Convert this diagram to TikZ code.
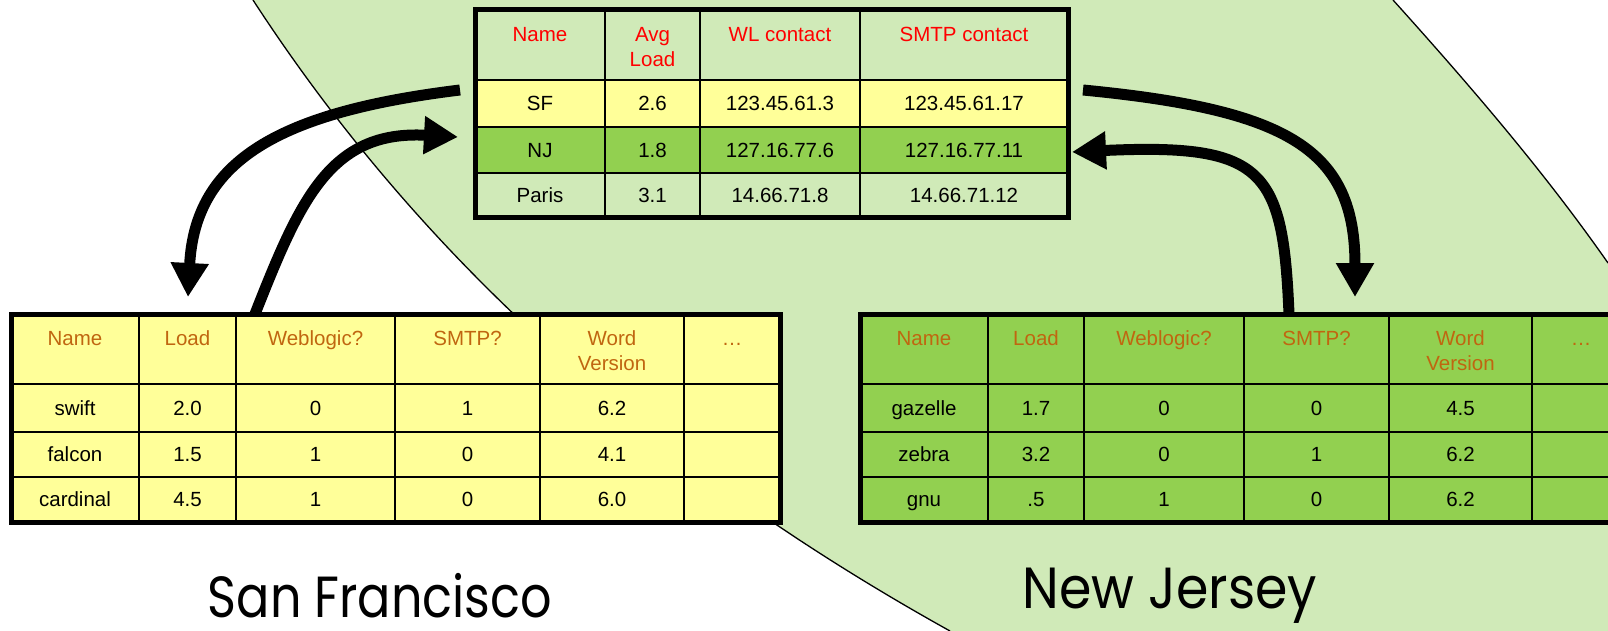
\documentclass[tikz,border=0pt]{standalone}
\usepackage{fontspec}
\setmainfont{Liberation Sans}
\newfontfamily\labelfont[FakeStretch=0.85]{Poppins}
\newfontfamily\labelfontwide[FakeStretch=0.9]{Poppins}
\usetikzlibrary{arrows.meta}
\definecolor{bggreen}{RGB}{208,234,184}
\definecolor{cellyellow}{RGB}{255,255,153}
\definecolor{cellgreen}{RGB}{146,208,80}
\definecolor{hdrred}{RGB}{255,0,0}
\definecolor{hdrorange}{RGB}{192,102,16}
\begin{document}
\begin{tikzpicture}[x=1pt,y=-1pt,
  txt/.style={font=\fontsize{20.5}{25}\selectfont, inner sep=0pt, anchor=base},
  hdrA/.style={txt, text=hdrred},
  hdrB/.style={txt, text=hdrorange},
  gridline/.style={line width=2.5pt},
  frame/.style={line width=5pt},
  bigarrow/.style={line width=11pt, -{Triangle[length=34pt,width=36pt]}},
  region/.style={line width=1.3pt},
  place/.style={font=\labelfont\fontsize{58}{60}\selectfont, inner sep=0pt, anchor=base, text depth=0pt},
  placewide/.style={font=\labelfontwide\fontsize{58}{60}\selectfont, inner sep=0pt, anchor=base, text depth=0pt}]
\useasboundingbox (0,0) rectangle (1608,631);
\clip (0,0) rectangle (1608,631);
\fill[white] (0,0) rectangle (1608,631);
% green region
\fill[bggreen] (253,0) .. controls (383,200) and (590,431) .. (950,631) -- (1608,631) -- (1608,263) .. controls (1545,173) and (1474,90) .. (1393,0) -- cycle;
\draw[region] (253,0) .. controls (383,200) and (590,431) .. (950,631);
\draw[region] (1393,0) .. controls (1474,90) and (1545,173) .. (1608,263);

% ---------- top table ----------
\fill[bggreen] (475,9.5) rectangle (1068,80);
\fill[cellyellow] (475,80) rectangle (1068,127);
\fill[cellgreen] (475,127) rectangle (1068,173);
\fill[bggreen] (475,173) rectangle (1068,217.5);
\foreach \y in {80,127,173} \draw[gridline] (475,\y) -- (1068,\y);
\foreach \x in {605,700,860} \draw[gridline] (\x,9.5) -- (\x,217.5);
\draw[frame] (475,9.5) rectangle (1068,217.5);
\node[hdrA] (th1) at (540,41.3) {Name};
\node[hdrA] (th2a) at (652.5,41.3) {Avg};
\node[hdrA] (th2b) at (652.5,66.3) {Load};
\node[hdrA] (th3) at (780,41.3) {WL contact};
\node[hdrA] (th4) at (964,41.3) {SMTP contact};
\foreach \n/\a/\b/\c/\d/\yy in {1/SF/2.6/123.45.61.3/123.45.61.17/110.8,
  2/NJ/1.8/127.16.77.6/127.16.77.11/157.3,
  3/Paris/3.1/14.66.71.8/14.66.71.12/202.5}{
  \node[txt] (t\n a) at (540,\yy) {\a};
  \node[txt] (t\n b) at (652.5,\yy) {\b};
  \node[txt] (t\n c) at (780,\yy) {\c};
  \node[txt] (t\n d) at (964,\yy) {\d};
}

% ---------- San Francisco table ----------
\fill[cellyellow] (11,314) rectangle (780,522);
\foreach \y in {384,432,477} \draw[gridline] (11,\y) -- (780,\y);
\foreach \x in {139,236,395,540,684} \draw[gridline] (\x,314) -- (\x,522);
\draw[frame] (11,314) rectangle (780,522);
\node[hdrB] (sh1) at (75,345.3) {Name};
\node[hdrB] (sh2) at (187.5,345.3) {Load};
\node[hdrB] (sh3) at (315.5,345.3) {Weblogic?};
\node[hdrB] (sh4) at (467.5,345.3) {SMTP?};
\node[hdrB] (sh5a) at (612,345.3) {Word};
\node[hdrB] (sh5b) at (612,370.3) {Version};
\node[hdrB] (sh6) at (732,345.3) {\dots};
\foreach \n/\a/\b/\c/\d/\e/\yy in {1/swift/2.0/0/1/6.2/415.3,
  2/falcon/1.5/1/0/4.1/461.8,
  3/cardinal/4.5/1/0/6.0/506.8}{
  \node[txt] (s\n a) at (75,\yy) {\a};
  \node[txt] (s\n b) at (187.5,\yy) {\b};
  \node[txt] (s\n c) at (315.5,\yy) {\c};
  \node[txt] (s\n d) at (467.5,\yy) {\d};
  \node[txt] (s\n e) at (612,\yy) {\e};
}

% ---------- New Jersey table ----------
\fill[cellgreen] (860,314) rectangle (1630,522);
\foreach \y in {384,432,477} \draw[gridline] (860,\y) -- (1630,\y);
\foreach \x in {988,1084,1244,1389,1532} \draw[gridline] (\x,314) -- (\x,522);
\draw[frame] (860,314) rectangle (1630,522);
\node[hdrB] (nh1) at (924,345.3) {Name};
\node[hdrB] (nh2) at (1036,345.3) {Load};
\node[hdrB] (nh3) at (1164,345.3) {Weblogic?};
\node[hdrB] (nh4) at (1316.5,345.3) {SMTP?};
\node[hdrB] (nh5a) at (1460.5,345.3) {Word};
\node[hdrB] (nh5b) at (1460.5,370.3) {Version};
\node[hdrB] (nh6) at (1581,345.3) {\dots};
\foreach \n/\a/\b/\c/\d/\e/\yy in {1/gazelle/1.7/0/0/4.5/415.3,
  2/zebra/3.2/0/1/6.2/461.8,
  3/gnu/.5/1/0/6.2/506.8}{
  \node[txt] (n\n a) at (924,\yy) {\a};
  \node[txt] (n\n b) at (1036,\yy) {\b};
  \node[txt] (n\n c) at (1164,\yy) {\c};
  \node[txt] (n\n d) at (1316.5,\yy) {\d};
  \node[txt] (n\n e) at (1460.5,\yy) {\e};
}

% ---------- arrows ----------
\coordinate (a1s) at (460,90);
\coordinate (a1e) at (188,297);
\coordinate (a2s) at (255,314);
\coordinate (a2e) at (458,137);
\coordinate (a3s) at (1083,90);
\coordinate (a3e) at (1355,297);
\coordinate (a4s) at (1289,314);
\coordinate (a4e) at (1072,152);
\draw[bigarrow] (a1s) .. controls (280,112) and (195,160) .. (a1e);
\draw[bigarrow] (a2s) .. controls (300,200) and (330,130) .. (a2e);
\draw[bigarrow] (a3s) .. controls (1290,110) and (1355,150) .. (a3e);
\draw[bigarrow] (a4s) .. controls (1283,170) and (1265,143) .. (a4e);

% ---------- place labels ----------
\node[place] (sf) at (380,617) {San Francisco};
\node[placewide] (nj) at (1170,608) {New Jersey};
\end{tikzpicture}
\end{document}
